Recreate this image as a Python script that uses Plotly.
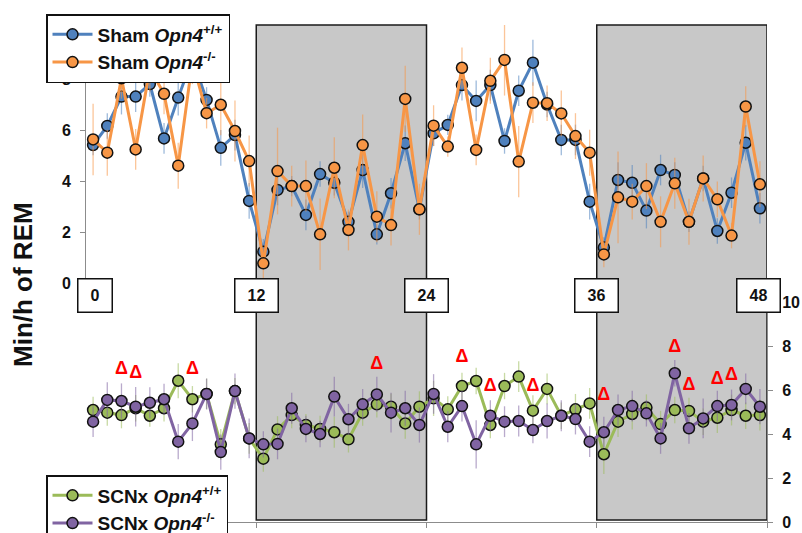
import plotly.graph_objects as go

# ---------------- data ----------------
hours = [0.5, 1.5, 2.5, 3.5, 4.5, 5.5, 6.5, 7.5, 8.5, 9.5, 10.5, 11.5,
         12.5, 13.5, 14.5, 15.5, 16.5, 17.5, 18.5, 19.5, 20.5, 21.5, 22.5, 23.5,
         24.5, 25.5, 26.5, 27.5, 28.5, 29.5, 30.5, 31.5, 32.5, 33.5, 34.5, 35.5,
         36.5, 37.5, 38.5, 39.5, 40.5, 41.5, 42.5, 43.5, 44.5, 45.5, 46.5, 47.5]

sham_wt = [5.41, 6.16, 7.31, 7.31, 7.8, 5.67, 7.27, 8.8, 7.18, 5.3, 5.8, 3.22,
           1.23, 3.65, 3.8, 2.67, 4.27, 3.93, 2.4, 4.43, 1.91, 3.52, 5.48, 2.89,
           5.87, 6.2, 7.76, 7.14, 7.76, 5.57, 7.54, 8.64, 7.0, 5.61, 5.61, 3.19,
           1.39, 4.04, 3.93, 2.84, 4.43, 4.24, 2.4, 4.1, 2.04, 3.54, 5.5, 2.93]
sham_wt_err = [0.4, 0.5, 0.7, 0.6, 0.5, 0.6, 0.7, 0.6, 0.5, 0.7, 0.6, 0.7,
               0.5, 0.6, 0.4, 0.6, 0.5, 0.5, 0.4, 0.7, 0.4, 0.6, 0.7, 0.4,
               0.5, 0.4, 0.6, 0.8, 0.6, 0.5, 0.6, 0.9, 0.5, 0.6, 0.6, 0.7,
               0.4, 0.7, 0.7, 0.7, 0.6, 0.5, 0.4, 0.5, 0.5, 0.6, 0.7, 0.6]

sham_ko = [5.63, 5.11, 8.03, 5.24, 8.4, 7.42, 4.6, 8.7, 6.66, 6.99, 5.96, 4.78,
           0.77, 4.39, 3.8, 3.8, 1.91, 4.52, 2.08, 5.41, 2.6, 2.27, 7.22, 2.89,
           6.17, 5.35, 8.44, 5.22, 7.93, 8.75, 4.76, 7.07, 7.05, 6.65, 5.76, 5.11,
           1.12, 3.36, 3.19, 3.8, 2.4, 3.91, 2.4, 4.1, 3.28, 1.86, 6.92, 3.87]
sham_ko_err = [1.4, 0.9, 0.8, 0.8, 0.9, 0.8, 0.9, 0.9, 0.6, 1.2, 1.2, 1.0,
               0.6, 1.7, 0.8, 1.0, 1.4, 1.2, 0.8, 1.2, 1.0, 0.8, 1.3, 1.0,
               0.8, 0.4, 0.8, 0.6, 0.9, 1.4, 1.4, 0.8, 0.7, 0.9, 0.9, 0.9,
               0.5, 1.8, 0.7, 0.9, 1.0, 1.0, 0.9, 0.9, 0.7, 0.5, 0.8, 0.9]

scnx_wt = [5.09, 4.97, 4.86, 5.17, 4.83, 5.17, 6.42, 5.58, 5.82, 3.53, 5.95, 3.8,
           2.88, 4.21, 4.86, 4.41, 4.23, 4.08, 3.76, 4.97, 5.35, 5.24, 4.48, 5.24,
           5.62, 5.12, 6.18, 6.41, 4.41, 6.18, 6.61, 5.06, 6.05, 4.83, 5.12, 5.39,
           3.08, 4.56, 4.91, 5.2, 4.45, 5.09, 5.05, 4.56, 4.74, 5.09, 4.83, 4.86]
scnx_wt_err = [0.6, 0.6, 0.6, 0.6, 0.5, 0.6, 0.8, 0.6, 0.7, 0.7, 0.6, 0.7,
               0.6, 0.6, 0.6, 0.5, 0.6, 0.7, 0.6, 0.6, 0.6, 0.6, 0.7, 0.7,
               0.8, 0.6, 0.6, 0.6, 0.6, 0.6, 0.7, 0.7, 0.7, 0.6, 0.7, 0.7,
               0.9, 0.7, 0.7, 0.6, 0.6, 0.6, 0.6, 0.6, 0.7, 0.7, 0.6, 0.7]

scnx_ko = [4.56, 5.55, 5.5, 5.24, 5.42, 5.58, 3.65, 4.48, 5.82, 3.18, 5.95, 3.8,
           3.53, 3.55, 5.17, 4.23, 4.0, 5.7, 4.67, 5.35, 5.8, 4.97, 5.17, 4.41,
           5.82, 4.33, 5.27, 3.53, 4.83, 4.56, 4.59, 4.18, 4.59, 4.83, 4.68, 3.65,
           4.08, 5.09, 5.27, 4.94, 3.8, 6.76, 4.26, 4.71, 5.27, 5.32, 6.05, 5.24]
scnx_ko_err = [0.7, 0.8, 0.8, 0.9, 0.7, 0.7, 0.8, 0.8, 0.7, 0.8, 0.8, 0.9,
               0.6, 0.7, 0.7, 0.6, 0.6, 0.9, 0.7, 0.7, 0.8, 0.9, 0.8, 0.8,
               0.9, 0.7, 0.7, 1.1, 0.7, 0.7, 0.7, 0.6, 0.8, 0.7, 0.7, 0.7,
               0.7, 0.7, 0.7, 0.6, 0.7, 0.6, 0.7, 0.9, 0.7, 0.7, 0.7, 0.8]

delta_hours = [2.5, 3.5, 7.5, 20.5, 26.5, 28.5, 31.5, 36.5, 41.5, 42.5, 44.5, 45.5]
delta_y = [6.95, 6.73, 6.95, 7.18, 7.5, 6.15, 6.15, 5.73, 7.92, 6.2, 6.5, 6.68]

dark_start = [12, 36]
dark_end = [24, 48]
hour_ticks = [0, 12, 24, 36, 48]
hour_labels = ["0", "12", "24", "36", "48"]
top_ticks = [0, 2, 4, 6, 8]
bottom_ticks = [0, 2, 4, 6, 8, 10]

# ---------------- style ----------------
FONT = "Liberation Sans, Arial, sans-serif"
BLUE = "#4F81BD"
ORANGE = "#F79646"
GREEN = "#9BBB59"
PURPLE = "#8064A2"
AXIS = "#8C8C8C"

W, H = 802, 533
ML, MR, MT, MB = 86, 35, 25, 11
plot_w = W - ML - MR  # 681
plot_h = H - MT - MB  # 497
top_dom0 = (H - MB - 283) / plot_h
bot_dom1 = (H - MB - 302) / plot_h
top_range_max = (283 - MT) / 25.5


def px_x(px):
    return (px - ML) / plot_w


def px_y(py):
    return (H - MB - py) / plot_h


def rgba(hexc, a):
    h = hexc.lstrip("#")
    return "rgba(%d,%d,%d,%.2f)" % (int(h[0:2], 16), int(h[2:4], 16), int(h[4:6], 16), a)


fig = go.Figure()


def add_series(y, err, color, name, yaxis, legend):
    fig.add_trace(go.Scatter(
        x=hours, y=y, yaxis=yaxis, mode="lines+markers", name=name,
        legend=legend, legendgroup=name,
        line=dict(color=color, width=3),
        marker=dict(size=11, color=color, line=dict(color="#111111", width=1.5)),
        error_y=dict(type="data", array=err, color=rgba(color, 0.55),
                     thickness=1.3, width=0),
        hoverinfo="skip",
    ))


add_series(sham_wt, sham_wt_err, BLUE, "<b>Sham <i>Opn4</i><sup>+/+</sup></b>", "y", "legend")
add_series(sham_ko, sham_ko_err, ORANGE, "<b>Sham <i>Opn4</i><sup>-/-</sup></b>", "y", "legend")
add_series(scnx_wt, scnx_wt_err, GREEN, "<b>SCNx <i>Opn4</i><sup>+/+</sup></b>", "y2", "legend2")
add_series(scnx_ko, scnx_ko_err, PURPLE, "<b>SCNx <i>Opn4</i><sup>-/-</sup></b>", "y2", "legend2")

fig.add_trace(go.Scatter(
    x=delta_hours, y=delta_y, yaxis="y2", mode="text",
    text=["<b>Δ</b>"] * len(delta_hours),
    textfont=dict(family=FONT, size=18, color="#FF0000"),
    showlegend=False, hoverinfo="skip",
))

shapes = []
for s, e in zip(dark_start, dark_end):
    shapes.append(dict(type="rect", xref="x", yref="paper", x0=s, x1=e,
                       y0=2 / plot_h, y1=1, fillcolor="#C8C8C8",
                       line=dict(color="#1a1a1a", width=1.5), layer="below"))

annotations = []
for h, lab in zip(hour_ticks, hour_labels):
    shift = 9 if h == hour_ticks[0] else (-9 if h == hour_ticks[-1] else 0)
    annotations.append(dict(
        x=h, y=px_y(295), xref="x", yref="paper", text="<b>%s</b>" % lab,
        showarrow=False, xshift=shift, xanchor="center", yanchor="middle",
        font=dict(family=FONT, size=16, color="#111111"),
        bgcolor="white", bordercolor="#111111", borderwidth=1.5,
        borderpad=4, width=25 if len(lab) == 1 else 34, height=24,
    ))

annotations.append(dict(
    x=px_x(23), y=px_y(285),
    xref="paper", yref="paper", text="<b>Min/h of REM</b>",
    textangle=-90, showarrow=False, xanchor="center", yanchor="middle",
    font=dict(family=FONT, size=26, color="#111111"),
))

legend_common = dict(
    bgcolor="white", bordercolor="#111111", borderwidth=1.5,
    font=dict(family=FONT, size=19, color="#111111"),
    xanchor="left", yanchor="top", tracegroupgap=0, itemwidth=40,
)

fig.update_layout(
    width=W, height=H,
    margin=dict(l=ML, r=MR, t=MT, b=MB, autoexpand=False),
    paper_bgcolor="white", plot_bgcolor="rgba(0,0,0,0)",
    font=dict(family=FONT, size=16, color="#111111"),
    showlegend=True,
    legend=dict(x=px_x(46), y=px_y(14), **legend_common),
    legend2=dict(x=px_x(46), y=px_y(475), **legend_common),
    xaxis=dict(range=[0, 48], anchor="y2", showline=True, linecolor=AXIS,
               linewidth=1, ticks="outside", tickvals=hour_ticks, ticklen=5,
               tickcolor=AXIS, showticklabels=False, showgrid=False,
               zeroline=False),
    yaxis=dict(domain=[top_dom0, 1], range=[0, top_range_max], anchor="x",
               side="left", showline=True, linecolor=AXIS, linewidth=1,
               ticks="outside", tickvals=top_ticks, ticklen=5, tickcolor=AXIS,
               ticklabelstandoff=6,
               tickfont=dict(family=FONT, size=16, color="#111111", weight="bold"),
               showgrid=False, zeroline=False),
    yaxis2=dict(domain=[0, bot_dom1], range=[0, 10], anchor="x",
                side="right", showline=True, linecolor=AXIS, linewidth=1,
                ticks="outside", tickvals=bottom_ticks, ticklen=5, tickcolor=AXIS,
                ticklabelstandoff=6,
                tickfont=dict(family=FONT, size=16, color="#111111", weight="bold"),
                showgrid=False, zeroline=False),
    shapes=shapes,
    annotations=annotations,
)

fig.write_html("out.html", config={"displayModeBar": False},
               post_script="document.body.style.margin='0';")
